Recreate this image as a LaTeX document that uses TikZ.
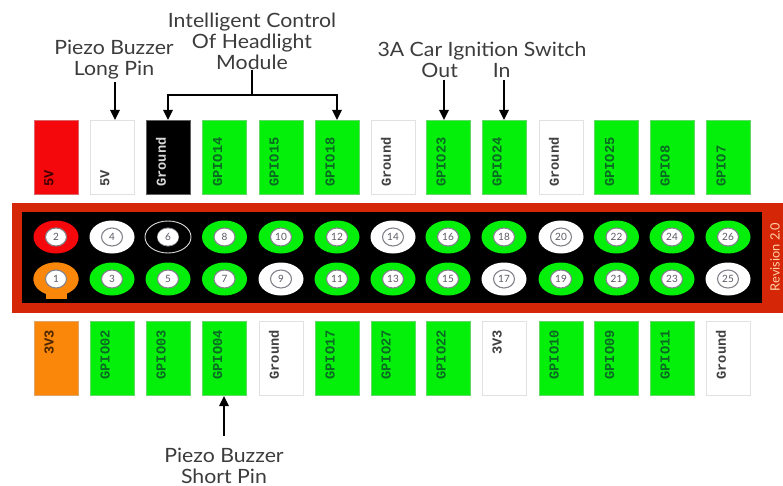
\documentclass[tikz,border=0pt]{standalone}
\usepackage{fontspec}
\setmainfont{Lato}[FakeStretch=1.08]
\newfontfamily\plainlato{Lato}
\newfontfamily\pinfont{Liberation Mono}
\definecolor{pgreen}{RGB}{4,240,10}
\definecolor{pred}{RGB}{245,8,12}
\definecolor{porange}{RGB}{250,135,10}
\definecolor{pboard}{RGB}{214,38,8}
\definecolor{pedge}{RGB}{195,195,200}
\definecolor{pnum}{RGB}{90,90,100}
\definecolor{ptext}{RGB}{60,60,60}
\definecolor{pgtext}{RGB}{10,105,35}
\usetikzlibrary{arrows.meta,shapes.geometric}
\tikzset{x=1pt,y=-1pt,
  headbox/.style={minimum width=44pt,minimum height=74pt,inner sep=0pt,line width=1pt},
  headtext/.style={rotate=90,font=\pinfont\bfseries\fontsize{13.7}{15}\selectfont,inner sep=0pt},
  pinouter/.style={ellipse,minimum width=45pt,minimum height=33pt,inner sep=0pt},
  pinring/.style={ellipse,minimum width=21pt,minimum height=18pt,inner sep=0pt,fill=white,draw=pnum!75,line width=1.1pt,text=pnum,font=\plainlato\fontsize{10}{11}\selectfont},
  caption/.style={align=center,font=\fontsize{19.7}{21}\selectfont,text=ptext,inner sep=0pt},
  pointer/.style={-{Triangle[width=9.5pt,length=10pt]},line width=1.5pt,black},
  wire/.style={line width=1.5pt,black}
}
\begin{document}
\begin{tikzpicture}
\useasboundingbox (0,0) rectangle (783,486);
% board
\fill[pboard] (12,203) rectangle (783,313);
\fill[black] (22,212) rectangle (762,303);
\node[rotate=90,text=orange!35!white,font=\plainlato\fontsize{12.8}{15}\selectfont,inner sep=0pt] (rev) at (775,257) {Revision 2.0};
% header boxes and pins
\foreach \i/\xx/\tf/\tt/\tl/\tp/\bf/\bt/\bl/\bp in {
1/56/pred/black!75!red/5V/2/porange/black!70!orange/3V3/1,
2/112/white/black!75/5V/4/pgreen/pgtext/GPIO02/3,
3/168/black/white!85!black/Ground/6/pgreen/pgtext/GPIO03/5,
4/224.5/pgreen/pgtext/GPIO14/8/pgreen/pgtext/GPIO04/7,
5/281/pgreen/pgtext/GPIO15/10/white/black!75/Ground/9,
6/337/pgreen/pgtext/GPIO18/12/pgreen/pgtext/GPIO17/11,
7/393/white/black!75/Ground/14/pgreen/pgtext/GPIO27/13,
8/448/pgreen/pgtext/GPIO23/16/pgreen/pgtext/GPIO22/15,
9/504/pgreen/pgtext/GPIO24/18/white/black!75/3V3/17,
10/561/white/black!75/Ground/20/pgreen/pgtext/GPIO10/19,
11/616.5/pgreen/pgtext/GPIO25/22/pgreen/pgtext/GPIO09/21,
12/672/pgreen/pgtext/GPIO8/24/pgreen/pgtext/GPIO11/23,
13/728/pgreen/pgtext/GPIO7/26/white/black!75/Ground/25}{
  \node[headbox,fill=\tf,draw=\tf!50!pedge] (t\i) at (\xx,157.5) {};
  \node[headtext,anchor=west,text=\tt] (tl\i) at (\xx-7,187) {\tl};
  \node[headbox,fill=\bf,draw=\bf!50!pedge] (b\i) at (\xx,358.5) {};
  \node[headtext,anchor=east,text=\bt] (bl\i) at (\xx-7,330) {\bl};
  \node[pinouter,fill=\tf] (po\tp) at (\xx,237) {};
  \node[pinring] (pi\tp) at (\xx,237) {\tp};
  \node[pinouter,fill=\bf] (po\bp) at (\xx,279) {};
  \node[pinring] (pi\bp) at (\xx,279) {\bp};
}
% ground pin 6 ring
\node[pinouter,draw=white!85!black,line width=.9pt,minimum width=46pt,minimum height=32pt] (ring6) at (168,237) {};
\node[ellipse,fill=white,minimum width=21pt,minimum height=17pt,inner sep=0pt,text=pnum,font=\plainlato\fontsize{10}{11}\selectfont] (in6) at (168,237) {6};
% tab on pin 1
\fill[porange] (46,292) rectangle (67,299);
\node[pinouter,fill=porange] (po1b) at (56,279) {};
\node[pinring] (pi1b) at (56,279) {1};
% captions
\node[caption] (buzzlong) at (114,59.5) {Piezo Buzzer\\Long Pin};
\node[caption] (head) at (252,41) {Intelligent Control\\Of Headlight\\Module};
\node[caption] (ign) at (482,59.5) {3A Car Ignition Switch\\Out\hspace{35pt}In\hspace{32pt}\mbox{}};
\node[caption] (buzzshort) at (224,466) {Piezo Buzzer\\Short Pin};
% connectors
\coordinate (hj) at (252,95);
\coordinate (ho) at (444,80);
\coordinate (hi) at (504,80);
\coordinate (su) at (224,436);
\coordinate (bu) at (115,82);
\draw[pointer] (bu) -- (t2.north -| bu);
\draw[wire] (head.south) -- (hj);
\draw[pointer] (hj) -| (t3.north);
\draw[pointer] (hj) -| (t6.north);
\draw[pointer] (ho) -- (t8.north -| ho);
\draw[pointer] (hi) -- (t9.north -| hi);
\draw[pointer] (su) -- (b4.south -| su);
\end{tikzpicture}
\end{document}
